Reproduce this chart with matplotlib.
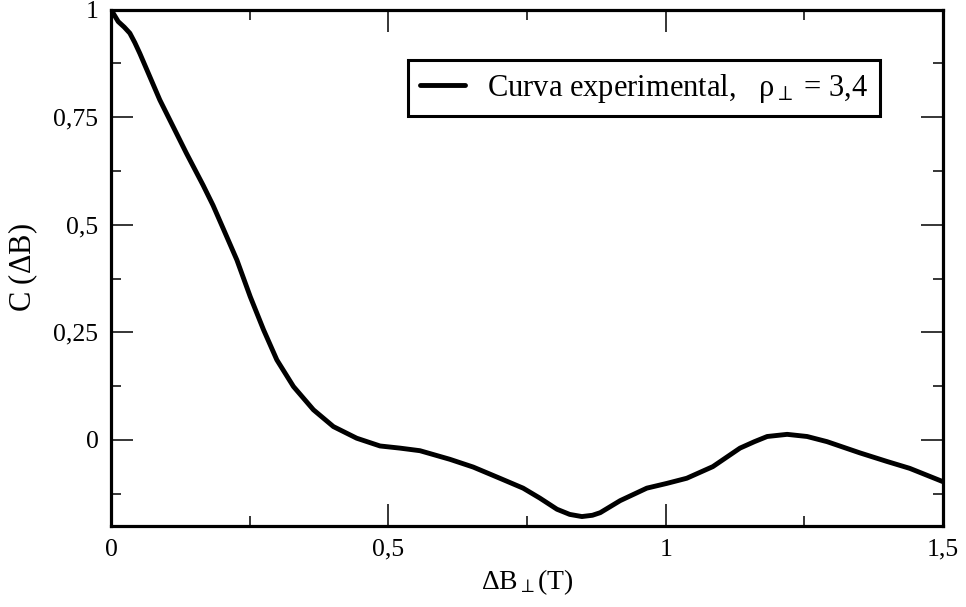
import matplotlib
matplotlib.use("Agg")
import matplotlib.pyplot as plt
from matplotlib.ticker import MultipleLocator, FuncFormatter

plt.rcParams["font.family"] = ["Liberation Serif", "DejaVu Serif"]
plt.rcParams["mathtext.fontset"] = "custom"
plt.rcParams["mathtext.rm"] = "Liberation Serif"
plt.rcParams["mathtext.it"] = "Liberation Serif"
plt.rcParams["mathtext.bf"] = "Liberation Serif:bold"

# correlation curve C(dB) vs perpendicular field step (T)
delta_b = [0.000, 0.013, 0.024, 0.034, 0.043, 0.052, 0.070, 0.088, 0.112, 0.136,
           0.166, 0.184, 0.202, 0.227, 0.251, 0.275, 0.299, 0.329, 0.365, 0.401,
           0.443, 0.485, 0.521, 0.557, 0.611, 0.653, 0.701, 0.743, 0.773, 0.804,
           0.827, 0.849, 0.868, 0.882, 0.918, 0.966, 1.002, 1.038, 1.085, 1.134,
           1.160, 1.183, 1.219, 1.255, 1.291, 1.350, 1.399, 1.440, 1.500]
corr = [1.000, 0.972, 0.959, 0.945, 0.923, 0.898, 0.844, 0.790, 0.728, 0.666,
        0.592, 0.545, 0.492, 0.418, 0.333, 0.256, 0.186, 0.124, 0.070, 0.031,
        0.004, -0.014, -0.019, -0.025, -0.045, -0.063, -0.089, -0.112, -0.135, -0.161,
        -0.173, -0.178, -0.175, -0.169, -0.141, -0.112, -0.101, -0.089, -0.062, -0.019,
        -0.004, 0.008, 0.013, 0.008, -0.004, -0.030, -0.050, -0.066, -0.097]

label = r"Curva experimental,   $\rho_{\perp}$ = 3,4"


def comma_fmt(v, pos):
    if abs(v) < 1e-9:
        return "0"
    return "{:g}".format(v).replace(".", ",")


fig = plt.figure(figsize=(9.66, 6.07), dpi=100)
ax = fig.add_axes([0.1149, 0.1334, 0.8613, 0.8509])

ax.plot(delta_b, corr, color="black", lw=3.5, label=label,
        solid_joinstyle="round", solid_capstyle="round")

ax.set_xlim(0, 1.5)
ax.set_ylim(-0.2, 1)
ax.xaxis.set_major_locator(MultipleLocator(0.5))
ax.xaxis.set_minor_locator(MultipleLocator(0.25))
ax.yaxis.set_major_locator(MultipleLocator(0.25))
ax.yaxis.set_minor_locator(MultipleLocator(0.125))
ax.xaxis.set_major_formatter(FuncFormatter(comma_fmt))
ax.yaxis.set_major_formatter(FuncFormatter(comma_fmt))

ax.tick_params(which="both", direction="in", top=True, right=True,
               width=1.1, labelsize=18.5, pad=9)
ax.tick_params(which="major", length=16)
ax.tick_params(which="minor", length=7.5)
for s in ax.spines.values():
    s.set_linewidth(2.3)

ax.set_xlabel(r"$\Delta$B$_{\perp}$(T)", fontsize=20, labelpad=5)
ax.set_ylabel(r"C ($\Delta$B)", fontsize=22, labelpad=10)

leg = ax.legend(loc="upper right", bbox_to_anchor=(0.924, 0.902), fontsize=22,
                fancybox=False, framealpha=1, edgecolor="black",
                handlelength=1.5, handletextpad=0.7, borderpad=0.38,
                borderaxespad=0)
leg.get_frame().set_linewidth(2.2)

fig.savefig("out.png", dpi=100)
